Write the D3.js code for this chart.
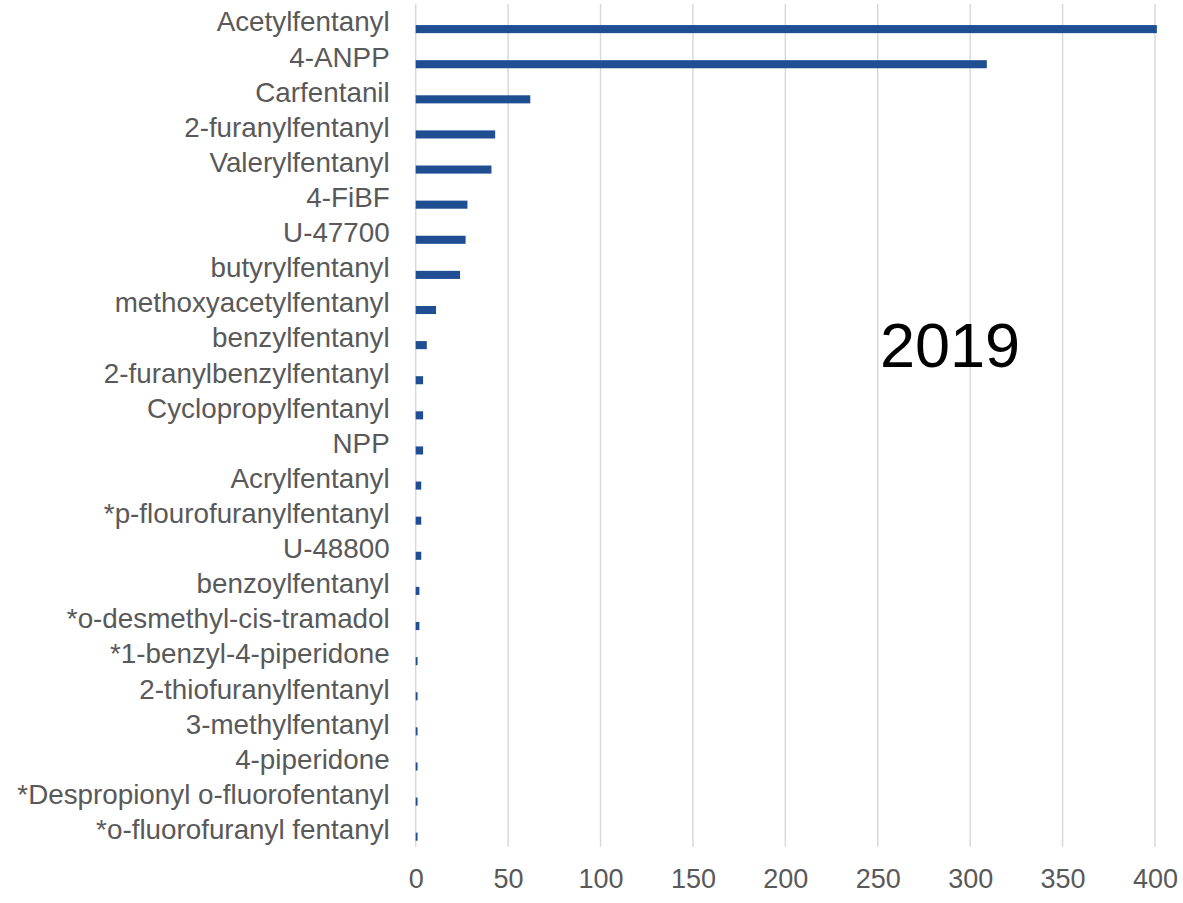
<!DOCTYPE html>
<html>
<head>
<meta charset="utf-8">
<script src="https://cdn.jsdelivr.net/npm/d3@7"></script>
<style>
  body { margin: 0; background: #fff; }
  svg text { font-family: Arial, "Liberation Sans", sans-serif; }
</style>
</head>
<body>
<svg id="chart" width="1183" height="903"></svg>
<script>
// substances, top to bottom
var substances = [
    "Acetylfentanyl", "4-ANPP", "Carfentanil", "2-furanylfentanyl",
    "Valerylfentanyl", "4-FiBF", "U-47700", "butyrylfentanyl",
    "methoxyacetylfentanyl", "benzylfentanyl", "2-furanylbenzylfentanyl",
    "Cyclopropylfentanyl", "NPP", "Acrylfentanyl", "*p-flourofuranylfentanyl",
    "U-48800", "benzoylfentanyl", "*o-desmethyl-cis-tramadol",
    "*1-benzyl-4-piperidone", "2-thiofuranylfentanyl", "3-methylfentanyl",
    "4-piperidone", "*Despropionyl o-fluorofentanyl", "*o-fluorofuranyl fentanyl"
];
var counts = [401, 309, 62, 43, 41, 28, 27, 24, 11, 6, 4, 4, 4, 3, 3, 3, 2, 2, 1, 1, 1, 1, 1, 1];
var xTicks = [0, 50, 100, 150, 200, 250, 300, 350, 400];
var yearLabel = "2019";

function drawChart() {
    var svg = d3.select("#chart");

    var plotLeft = 415.7, plotRight = 1155, plotTop = 4, plotBottom = 846.7;

    var x = d3.scaleLinear().domain([0, 400]).range([plotLeft, plotRight]);
    var y = d3.scaleBand().domain(substances).range([plotTop, plotBottom]);

    // gridlines
    svg.append("g")
        .selectAll("line")
        .data(xTicks)
        .enter()
        .append("line")
        .attr("x1", function (d) { return x(d); })
        .attr("x2", function (d) { return x(d); })
        .attr("y1", plotTop)
        .attr("y2", plotBottom)
        .attr("stroke", "#d9d9d9")
        .attr("stroke-width", 1.5);

    // bars sit in the lower part of each band
    var bw = y.bandwidth();
    svg.append("g")
        .selectAll("rect")
        .data(counts)
        .enter()
        .append("rect")
        .attr("x", x(0))
        .attr("y", function (d, i) { return y(substances[i]) + bw * 0.6; })
        .attr("width", function (d) { return x(d) - x(0); })
        .attr("height", bw * 0.23)
        .attr("fill", "#1f4e93");

    // category labels
    var yAxis = svg.append("g")
        .attr("transform", "translate(" + plotLeft + ",1)")
        .call(d3.axisLeft(y).tickSize(0).tickPadding(26));
    yAxis.select(".domain").remove();
    yAxis.selectAll("text")
        .attr("fill", "#595959")
        .style("font-size", "27.8px");

    // value axis
    var xAxis = svg.append("g")
        .attr("transform", "translate(0," + plotBottom + ")")
        .call(d3.axisBottom(x).tickValues(xTicks).tickSize(0).tickPadding(22));
    xAxis.select(".domain").remove();
    xAxis.selectAll("text")
        .attr("fill", "#595959")
        .style("font-size", "27px");

    svg.append("text")
        .attr("x", 880)
        .attr("y", 367)
        .attr("fill", "#000")
        .style("font-size", "63px")
        .text(yearLabel);
}

drawChart();
</script>
</body>
</html>
